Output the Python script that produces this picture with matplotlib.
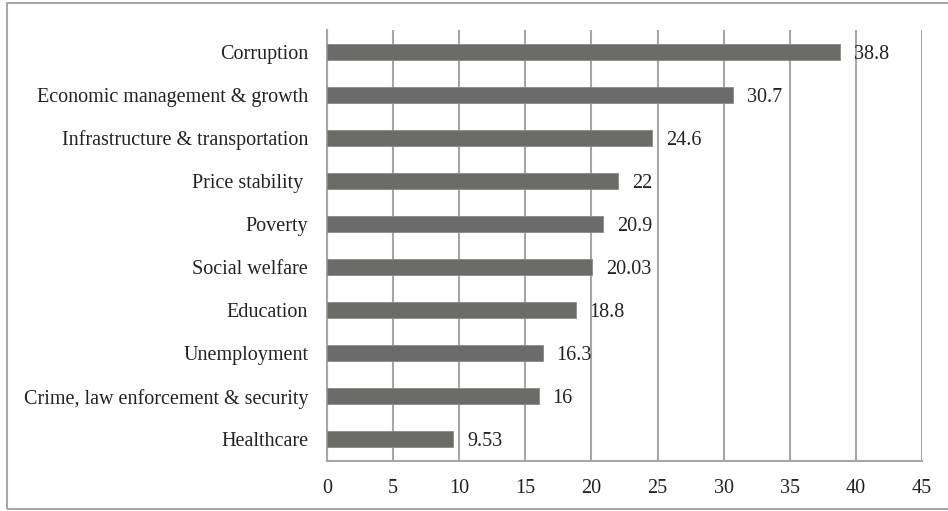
import matplotlib.pyplot as plt
from matplotlib.patches import Rectangle

plt.rcParams['font.family'] = ['Liberation Serif', 'DejaVu Serif']

categories = ['Corruption', 'Economic management & growth',
              'Infrastructure & transportation', 'Price stability ',
              'Poverty', 'Social welfare', 'Education', 'Unemployment',
              'Crime, law enforcement & security', 'Healthcare']
values = [38.8, 30.7, 24.6, 22, 20.9, 20.03, 18.8, 16.3, 16, 9.53]
value_labels = ['38.8', '30.7', '24.6', '22', '20.9', '20.03', '18.8', '16.3', '16', '9.53']
xticks = [0, 5, 10, 15, 20, 25, 30, 35, 40, 45]

fs = 14.5
fig = plt.figure(figsize=(9.48, 5.11), dpi=100)
ax = fig.add_axes([327 / 948, 1 - 461 / 511, (922 - 327) / 948, (461 - 30) / 511])

# outer frame of the chart
fig.patches.append(Rectangle((7 / 948, 2 / 511), 1.0, 506 / 511, transform=fig.transFigure,
                             fill=False, edgecolor='#a8a8a8', linewidth=1.5))

y = list(range(len(categories)))
ax.barh(y, values, height=0.37, color='#6b6b67', edgecolor='#8a8a86', linewidth=0.6, zorder=3)
for yi, v, lab in zip(y, values, value_labels):
    ax.annotate(lab, (v, yi), xytext=(10, 0), textcoords='offset points',
                va='center_baseline', ha='left', fontsize=fs, color='#222222', zorder=4)

ax.set_ylim(len(categories) - 0.5, -0.5)
ax.set_xlim(0, 45)
ax.set_yticks(y)
ax.set_yticklabels(categories)
ax.set_xticks(xticks)
ax.tick_params(axis='both', length=0, labelsize=fs, labelcolor='#222222')
ax.tick_params(axis='y', pad=13.5)
ax.tick_params(axis='x', pad=13)

ax.grid(axis='x', color='#a6a6a6', linewidth=1.5, zorder=0)
for s in ['top', 'right']:
    ax.spines[s].set_visible(False)
for s in ['left', 'bottom']:
    ax.spines[s].set_color('#a6a6a6')
    ax.spines[s].set_linewidth(1.5)

fig.savefig('out.png', dpi=100)
